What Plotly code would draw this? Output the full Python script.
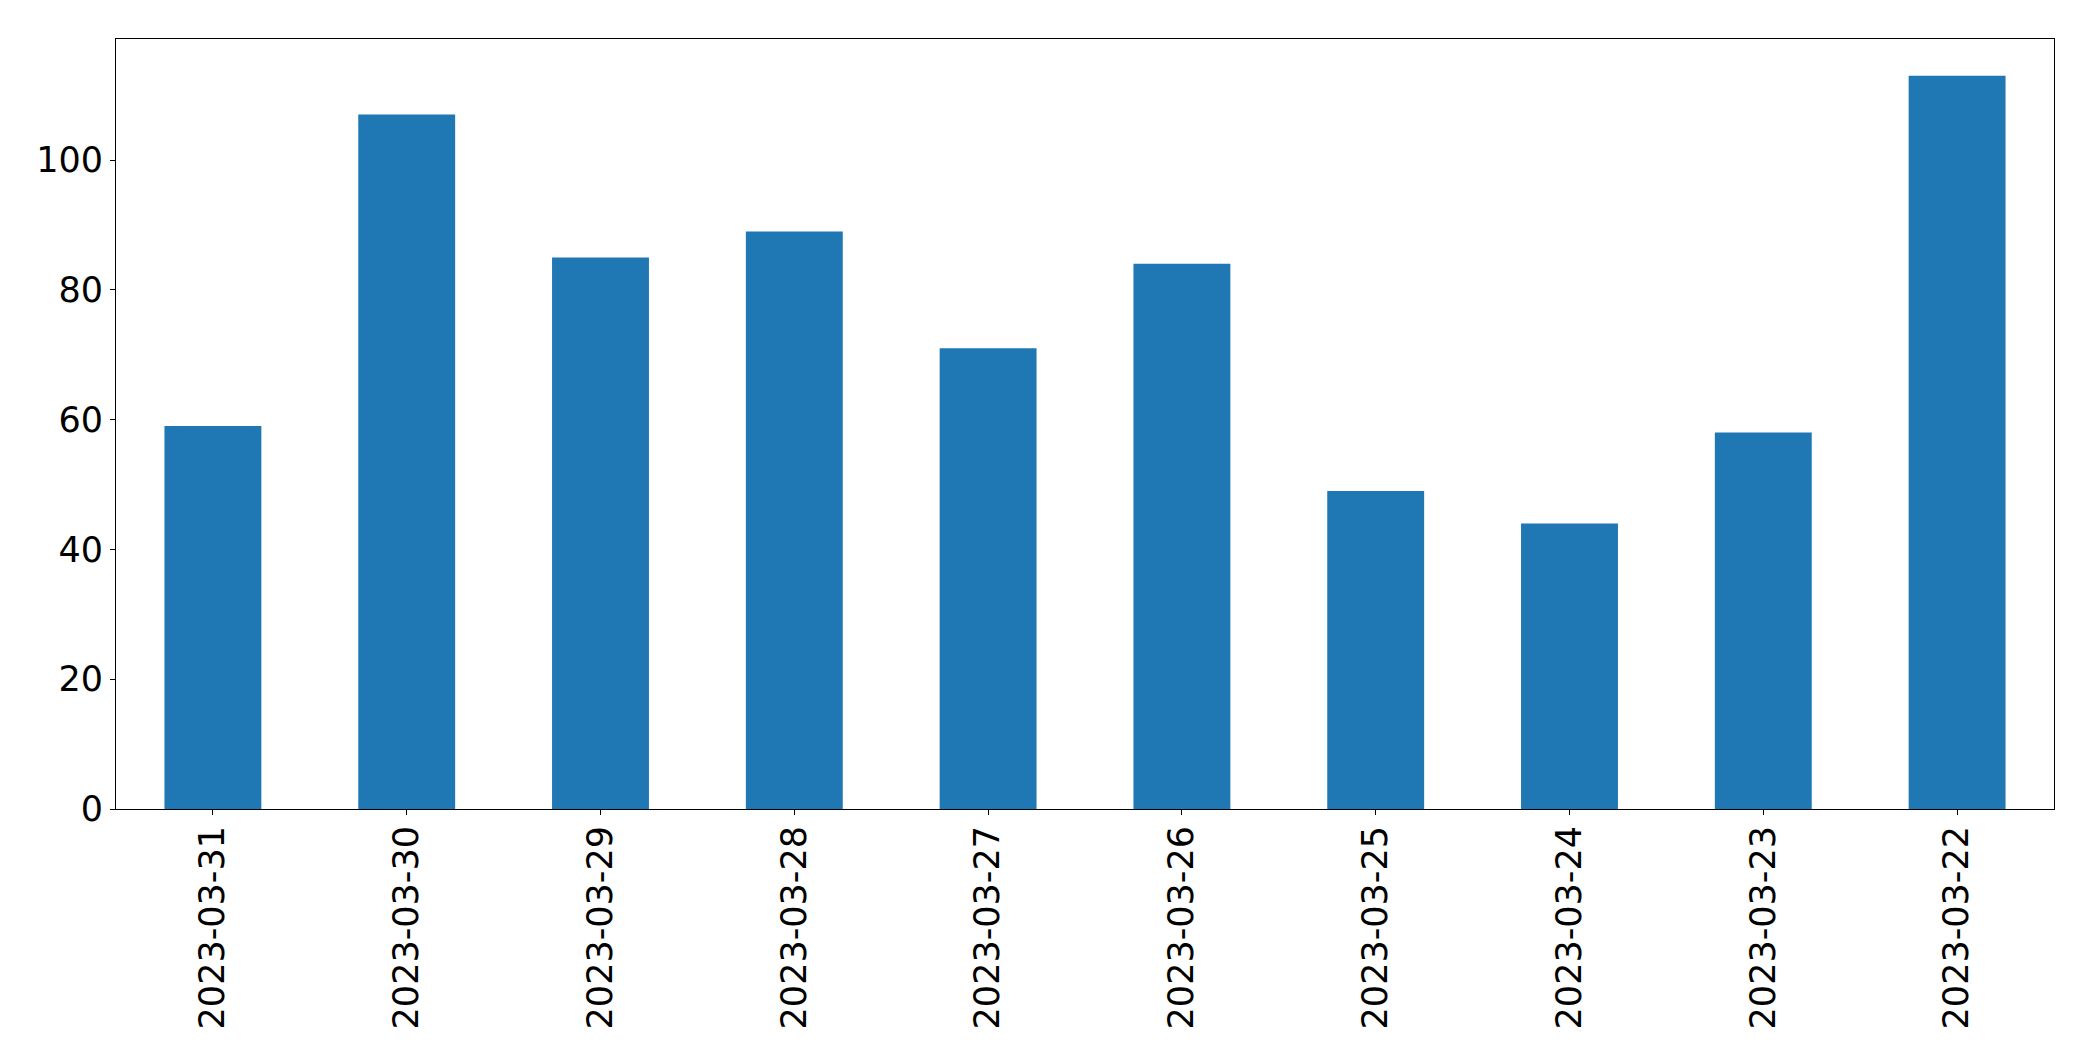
import plotly.graph_objects as go

dates = ["2023-03-31", "2023-03-30", "2023-03-29", "2023-03-28", "2023-03-27",
         "2023-03-26", "2023-03-25", "2023-03-24", "2023-03-23", "2023-03-22"]
values = [59, 107, 85, 89, 71, 84, 49, 44, 58, 113]
ytick_vals = [0, 20, 40, 60, 80, 100]

fig = go.Figure(go.Bar(x=dates, y=values, marker_color="#1f77b4", marker_line_width=0, width=0.5))

fig.update_layout(
    width=2093, height=1061,
    margin=dict(l=116, r=39, t=39, b=252, autoexpand=False),
    plot_bgcolor="white", paper_bgcolor="white",
    font=dict(family="DejaVu Sans", size=35, color="black"),
    showlegend=False,
    bargap=0.5,
)
fig.update_xaxes(
    type="category", range=[-0.5, 9.5], tickangle=-90,
    showline=True, mirror=True, linecolor="black", linewidth=1,
    ticks="outside", ticklen=5, tickcolor="black", tickwidth=1,
    showgrid=False, zeroline=False, ticklabelstandoff=-3,
)
fig.update_yaxes(
    range=[0, 118.65], tickvals=ytick_vals,
    showline=True, mirror=True, linecolor="black", linewidth=1,
    ticks="outside", ticklen=5, tickcolor="black", tickwidth=1,
    showgrid=False, zeroline=False, ticklabelstandoff=0,
)

fig.write_html("out.html")
